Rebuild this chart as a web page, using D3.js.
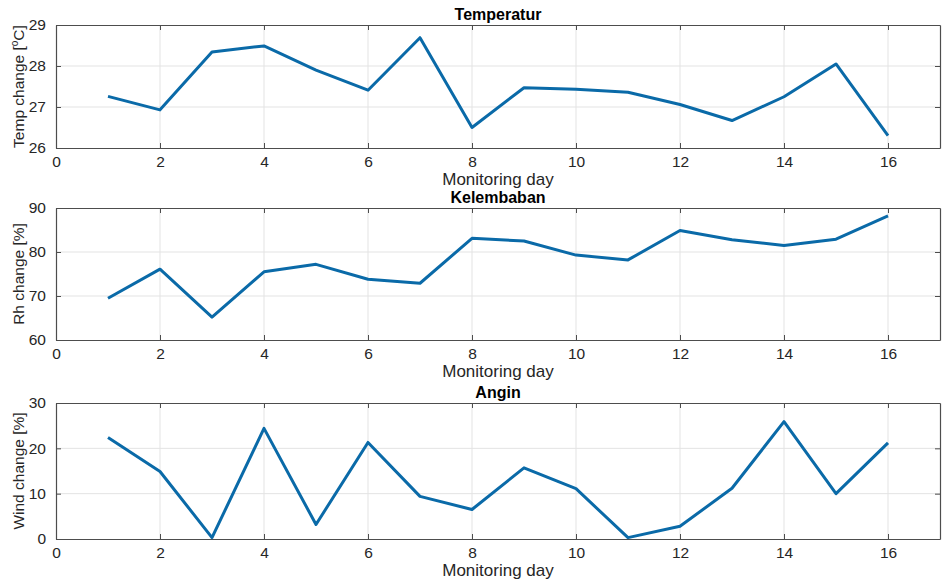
<!DOCTYPE html>
<html>
<head>
<meta charset="utf-8">
<script src="https://cdn.jsdelivr.net/npm/d3@7"></script>
<style>
  body { margin: 0; background: #fff; }
  text { font-family: "Liberation Sans", Arial, sans-serif; }
</style>
</head>
<body>
<div id="chart"></div>
<script>
// monitoring days and the three measured series
var days = [1, 2, 3, 4, 5, 6, 7, 8, 9, 10, 11, 12, 13, 14, 15, 16];
var temp = [27.26, 26.93, 28.34, 28.49, 27.9, 27.41, 28.69, 26.5, 27.47, 27.43, 27.36, 27.06, 26.67, 27.25, 28.05, 26.3];
var rh = [69.5, 76.1, 65.2, 75.5, 77.2, 73.8, 72.9, 83.1, 82.5, 79.3, 78.2, 84.9, 82.8, 81.5, 82.9, 88.2];
var wind = [22.4, 14.9, 0.3, 24.4, 3.2, 21.3, 9.4, 6.5, 15.7, 11.1, 0.3, 2.8, 11.2, 25.9, 10.0, 21.2];

var titles = ["Temperatur", "Kelembaban", "Angin"];
var yLabels = ["Temp change [", "Rh change [%]", "Wind change [%]"];
var yDomains = [[26, 29], [60, 90], [0, 30]];
var yTicks = [[26, 27, 28, 29], [60, 70, 80, 90], [0, 10, 20, 30]];
var xTicks = [0, 2, 4, 6, 8, 10, 12, 14, 16];
var series = [temp, rh, wind];

var width = 942, height = 583;
var left = 56, right = 940;
var tops = [25, 208, 403];
var bottoms = [148, 340, 539];
var lineColor = "#0a6aa8";

var svg = d3.select("#chart").append("svg")
            .attr("width", width)
            .attr("height", height);

var x = d3.scaleLinear().domain([0, 17]).range([left, right]);

series.forEach(function (vals, i) {
  var y = d3.scaleLinear().domain(yDomains[i]).range([bottoms[i], tops[i]]);
  var g = svg.append("g");

  // grid
  g.selectAll(".vgrid").data(xTicks.slice(1))
    .enter().append("line")
    .attr("x1", function (d) { return x(d); })
    .attr("x2", function (d) { return x(d); })
    .attr("y1", tops[i]).attr("y2", bottoms[i])
    .attr("stroke", "#e3e3e3").attr("stroke-width", 1);

  g.selectAll(".hgrid").data(yTicks[i].slice(1, -1))
    .enter().append("line")
    .attr("x1", left).attr("x2", right)
    .attr("y1", function (d) { return y(d); })
    .attr("y2", function (d) { return y(d); })
    .attr("stroke", "#e3e3e3").attr("stroke-width", 1);

  // axes (ticks inside, matlab style)
  var xb = d3.axisBottom(x).tickValues(xTicks).tickSizeInner(-5).tickSizeOuter(0).tickPadding(8).tickFormat(d3.format("d"));
  var xt = d3.axisTop(x).tickValues(xTicks).tickSizeInner(-5).tickSizeOuter(0).tickFormat("");
  var yl = d3.axisLeft(y).tickValues(yTicks[i]).tickSizeInner(-5).tickSizeOuter(0).tickPadding(10).tickFormat(d3.format("d"));
  var yr = d3.axisRight(y).tickValues(yTicks[i]).tickSizeInner(-5).tickSizeOuter(0).tickFormat("");

  [
    g.append("g").attr("transform", "translate(0," + bottoms[i] + ")").call(xb),
    g.append("g").attr("transform", "translate(0," + tops[i] + ")").call(xt),
    g.append("g").attr("transform", "translate(" + left + ",0)").call(yl),
    g.append("g").attr("transform", "translate(" + right + ",0)").call(yr)
  ].forEach(function (ax) {
    ax.select(".domain").attr("stroke", "#4d4d4d").attr("stroke-width", 1.2);
    ax.selectAll(".tick line").attr("stroke", "#4d4d4d");
    ax.selectAll("text")
      .attr("fill", "#262626")
      .attr("font-size", "15.5px")
      .style("font-family", "'Liberation Sans', Arial, sans-serif");
  });

  // line
  var line = d3.line()
               .x(function (d, k) { return x(days[k]); })
               .y(function (d) { return y(d); });

  g.append("path")
    .datum(vals)
    .attr("d", line)
    .attr("fill", "none")
    .attr("stroke", lineColor)
    .attr("stroke-width", 3)
    .attr("stroke-linejoin", "round");

  // title
  g.append("text")
    .attr("x", (left + right) / 2)
    .attr("y", tops[i] - 5)
    .attr("text-anchor", "middle")
    .attr("font-size", "16px")
    .attr("font-weight", "bold")
    .attr("fill", "#000")
    .text(titles[i]);

  // x label
  g.append("text")
    .attr("x", (left + right) / 2)
    .attr("y", bottoms[i] + 37)
    .attr("text-anchor", "middle")
    .attr("font-size", "17px")
    .attr("fill", "#262626")
    .text("Monitoring day");

  // y label
  var yl2 = g.append("text")
    .attr("transform", "translate(24," + ((tops[i] + bottoms[i]) / 2) + ") rotate(-90)")
    .attr("text-anchor", "middle")
    .attr("font-size", "15.5px")
    .attr("fill", "#262626");

  if (i === 0) {
    yl2.append("tspan").text(yLabels[i]);
    yl2.append("tspan").attr("font-size", "10px").attr("dy", -6).text("o");
    yl2.append("tspan").attr("dy", 6).text("C]");
  } else {
    yl2.text(yLabels[i]);
  }
});
</script>
</body>
</html>
